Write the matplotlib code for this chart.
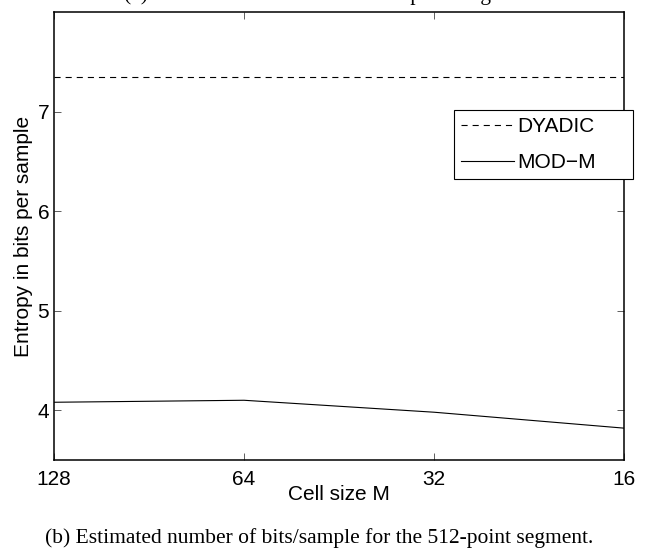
import matplotlib
matplotlib.use("Agg")
import matplotlib.pyplot as plt
from matplotlib.ticker import FixedLocator, NullLocator

# cell sizes (log2 spaced, plotted decreasing to the right)
cell_sizes = [128, 64, 32, 16]
cell_labels = ["128", "64", "32", "16"]
# entropy in bits per sample
dyadic = [7.35, 7.35, 7.35, 7.35]
modm = [4.08, 4.10, 3.98, 3.82]
yticks = [4, 5, 6, 7]

plt.rcParams['font.family'] = ['Liberation Sans', 'DejaVu Sans']

fig = plt.figure(figsize=(6.46, 5.48), dpi=100)
ax = fig.add_axes([54/646, 88/548, 570/646, 448/548])

ax.plot(cell_sizes, dyadic, color='black', lw=0.8, ls=(0, (5.5, 4.5)), label='DYADIC')
ax.plot(cell_sizes, modm, color='black', lw=0.8, label='MOD\u2212M')

ax.set_xscale('log', base=2)
ax.set_xlim(128, 16)
ax.set_ylim(3.5, 8)
ax.xaxis.set_major_locator(FixedLocator(cell_sizes))
ax.xaxis.set_minor_locator(NullLocator())
ax.set_xticklabels(cell_labels)
ax.set_yticks(yticks)

ax.tick_params(direction='in', length=5, width=0.6, labelsize=15, top=True, right=True,
               color='#444444')
ax.tick_params(axis='x', pad=7)
for s in ax.spines.values():
    s.set_linewidth(1.1)

ax.set_xlabel('Cell size M', fontsize=15, labelpad=-3)
ax.set_ylabel('Entropy in bits per sample', fontsize=15, labelpad=3)

# legend box sticks out a little past the right spine, as in the original
leg = ax.legend(loc='upper left', bbox_to_anchor=(454/646, 1 - 182/548, 179/646, 72/548),
                bbox_transform=fig.transFigure, mode='expand', borderaxespad=0,
                fontsize=15, fancybox=False, framealpha=1, edgecolor='black',
                handlelength=2.55, handletextpad=0.15, borderpad=0.35, labelspacing=0.8)
leg.get_frame().set_linewidth(0.8)

fig.text(0.494, 1 - 543/548, '(b) Estimated number of bits/sample for the 512-point segment.',
         ha='center', va='baseline', fontsize=15.5, family='Liberation Serif')
fig.text(0.50, 1.0, '(a) Estimated bits for the whole speech signal.',
         ha='center', va='baseline', fontsize=15.5, family='Liberation Serif')

fig.savefig('out.png', dpi=100)
